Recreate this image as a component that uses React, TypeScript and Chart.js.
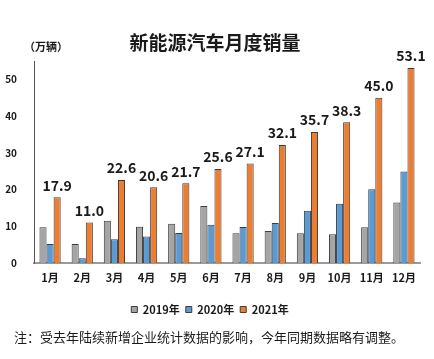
import React, { useEffect, useRef } from "react";
import { Chart, registerables } from "chart.js";

Chart.register(...registerables);

const categories = ["1月", "2月", "3月", "4月", "5月", "6月", "7月", "8月", "9月", "10月", "11月", "12月"];
const seriesNames = ["2019年", "2020年", "2021年"];
const sales2019 = [9.7, 5.2, 11.5, 9.9, 10.7, 15.5, 8.1, 8.7, 8.1, 7.8, 9.7, 16.5];
const sales2020 = [5.2, 1.3, 6.5, 7.2, 8.2, 10.4, 9.8, 10.9, 14.2, 16.1, 20.1, 24.9];
const sales2021 = [17.9, 11.0, 22.6, 20.6, 21.7, 25.6, 27.1, 32.1, 35.7, 38.3, 45.0, 53.1];
const yTicks = [0, 10, 20, 30, 40, 50];
const titleText = "新能源汽车月度销量";
const unitText = "（万辆）";
const noteText = "注：受去年陆续新增企业统计数据的影响，今年同期数据略有调整。";

const FONT = "'Noto Sans CJK SC', 'Noto Sans', sans-serif";
const TEXT = "#1a1a1a";

const textPlugin = {
  id: "texts",
  afterDraw(chart: any) {
    const ctx = chart.ctx;
    ctx.save();
    ctx.fillStyle = TEXT;
    ctx.textBaseline = "middle";
    ctx.textAlign = "center";
    ctx.font = `bold 19px ${FONT}`;
    ctx.fillText(titleText, 215, 43);
    ctx.textAlign = "left";
    ctx.font = `bold 11px ${FONT}`;
    ctx.fillText(unitText, 24, 47);
    ctx.font = `13px ${FONT}`;
    ctx.fillText(noteText, 14, 337);
    ctx.restore();
  },
};

const labelPlugin = {
  id: "barLabels",
  afterDatasetsDraw(chart: any) {
    const ctx = chart.ctx;
    const meta = chart.getDatasetMeta(2);
    const data = chart.data.datasets[2].data as number[];
    ctx.save();
    ctx.fillStyle = TEXT;
    ctx.font = `bold 14px ${FONT}`;
    ctx.textAlign = "center";
    ctx.textBaseline = "middle";
    meta.data.forEach((el: any, i: number) => {
      ctx.fillText(Number(data[i]).toFixed(1), el.x, el.y - 12);
    });
    ctx.restore();
  },
};

export default function App() {
  const ref = useRef<HTMLCanvasElement>(null);
  useEffect(() => {
    document.body.style.margin = "0";
    const chart = new Chart(ref.current!, {
      type: "bar",
      data: {
        labels: categories,
        datasets: [
          { label: seriesNames[0], data: sales2019, backgroundColor: "#a5a5a5", borderColor: "#3c3c3c", borderWidth: 1 },
          { label: seriesNames[1], data: sales2020, backgroundColor: "#5b9bd5", borderColor: "#3c3c3c", borderWidth: 1 },
          { label: seriesNames[2], data: sales2021, backgroundColor: "#ed7d31", borderColor: "#3c3c3c", borderWidth: 1 },
        ],
      },
      options: {
        responsive: false,
        animation: false,
        datasets: { bar: { barPercentage: 1, categoryPercentage: 0.66 } },
        layout: { padding: { top: 61, left: 0, right: 14, bottom: 34 } },
        plugins: {
          title: { display: false },
          tooltip: { enabled: false },
          legend: {
            position: "bottom",
            labels: {
              boxWidth: 6,
              boxHeight: 6,
              padding: 6,
              color: TEXT,
              font: { size: 11, weight: "bold", family: FONT },
            },
          },
        },
        scales: {
          x: {
            grid: { display: false, drawTicks: false },
            border: { display: true, color: "#9a9a9a", width: 2 },
            ticks: { color: TEXT, padding: 8, font: { size: 11, weight: "bold", family: FONT }, maxRotation: 0 },
            afterFit: (s: any) => { s.height = 35; },
          },
          y: {
            min: 0,
            max: 55,
            grid: { display: false, drawTicks: false },
            border: { display: true, color: "#555555", width: 1 },
            afterBuildTicks: (s: any) => { s.ticks = yTicks.map((v) => ({ value: v })); },
            ticks: { color: TEXT, padding: 17, font: { size: 10, weight: "bold", family: FONT } },
            afterFit: (s: any) => { s.width = 34; },
          },
        },
      },
      plugins: [labelPlugin, textPlugin],
    });
    return () => chart.destroy();
  }, []);
  return <canvas ref={ref} width={434} height={359} style={{ position: "fixed", left: 0, top: 0 }} />;
}
